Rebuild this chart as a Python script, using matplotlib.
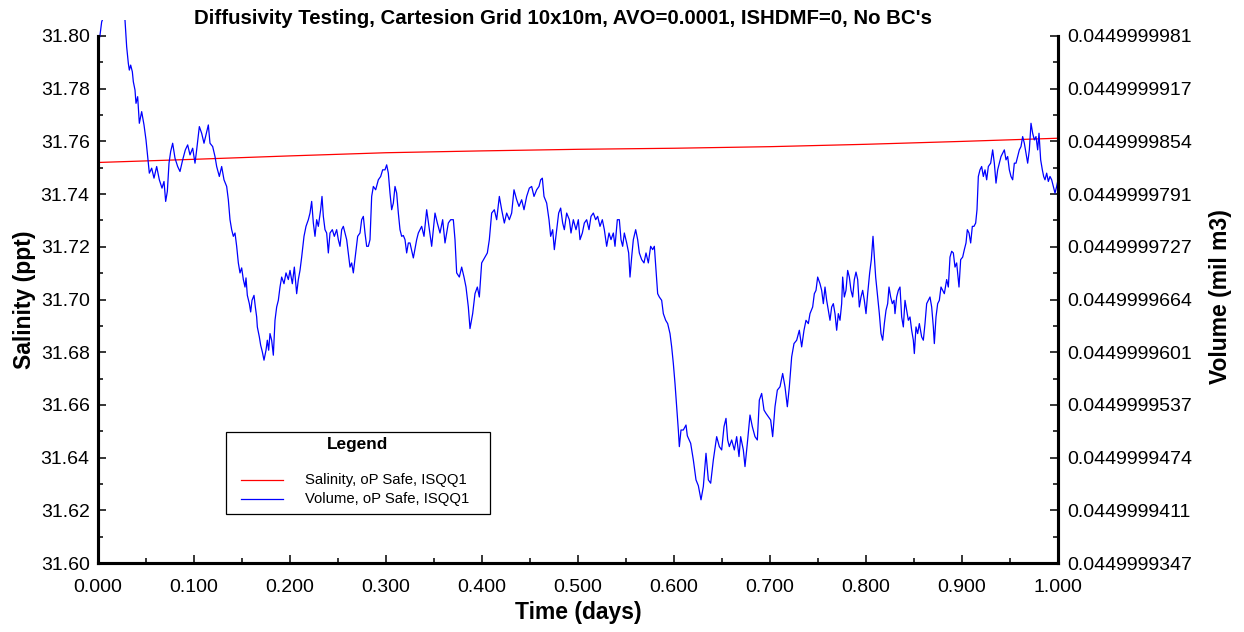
import numpy as np
import matplotlib
matplotlib.use("Agg")
import matplotlib.pyplot as plt
from matplotlib.patches import Rectangle
from matplotlib.ticker import FixedLocator, MultipleLocator, FormatStrFormatter

plt.rcParams["font.family"] = ["Liberation Sans", "DejaVu Sans"]

TITLE = "Diffusivity Testing, Cartesion Grid 10x10m, AVO=0.0001, ISHDMF=0, No BC's"

# salinity (red), time in minutes of the day
SAL_TIME_MIN = [0, 144, 288, 432, 576, 720, 864, 1008, 1152, 1296, 1440]
SAL_PPT = [31.7520, 31.7532, 31.7545, 31.7557, 31.7564, 31.7570,
           31.7574, 31.7580, 31.7589, 31.7600, 31.7612]

# volume (blue), time in minutes; volume given as tail in 1e-10 mil m3 above VOL_BASE
VOL_BASE = 0.0449999
VOL_TIME_MIN = [
    0.5, 3, 5.5, 12, 22.5, 33, 40.5, 43, 45.5, 47, 49, 51.5, 53, 55.5, 57, 59.5, 62, 65.5, 69, 72,
    74.5, 77, 80.5, 84, 88, 92, 96, 99, 101.5, 104, 106.5, 109, 112, 115.5, 119.5, 123, 127, 131, 134.5, 138,
    142, 145.5, 148, 152, 155.5, 159, 162, 165.5, 168, 172, 175.5, 178, 182, 185.5, 189, 193, 195.5, 198, 200.5, 203,
    205.5, 208, 210.5, 213, 215.5, 218, 220.5, 222, 224, 227, 229, 231, 234, 236, 238, 239, 242, 244, 246.5, 249,
    252, 254, 256, 258, 260.5, 263, 265.5, 268, 270.5, 273, 275.5, 279, 282, 285.5, 288, 291.5, 294.5, 298, 300.5, 303,
    305.5, 309, 312, 315.5, 318, 320.5, 323, 325.5, 328, 330.5, 334, 336, 338, 340.5, 343, 345.5, 348, 351.5, 354.5, 358,
    360.5, 363, 365.5, 368, 370.5, 373, 375.5, 378, 380.5, 383, 386.5, 389.5, 393, 395.5, 398, 400.5, 403, 405.5, 408, 410.5,
    413, 416.5, 420.5, 424, 427, 430.5, 433, 435.5, 438, 440.5, 443, 445.5, 448, 450.5, 453, 455.5, 458, 460.5, 463, 465.5,
    468, 473, 478, 480.5, 485.5, 489, 493, 497, 500.5, 505.5, 509, 513, 517, 520.5, 525.5, 529, 533, 535.5, 538, 542,
    545.5, 549, 552, 555.5, 558, 562, 565.5, 569, 572, 575.5, 580.5, 584, 587, 590.5, 594.5, 598, 602, 605.5, 609.5, 613,
    617, 620.5, 624, 628, 631.5, 635.5, 639, 643, 647, 650.5, 654, 658, 661.5, 664, 666.5, 669, 673, 676.5, 679, 682,
    684.5, 688, 691, 694, 697, 699.5, 703, 707, 709.5, 713, 717, 720.5, 723, 726.5, 729.5, 733, 736.5, 739.5, 743, 746.5,
    749.5, 753, 756.5, 759.5, 763, 766.5, 769.5, 773, 775.5, 779, 782, 784.5, 787, 789.5, 793, 796, 798, 800.5, 803, 806.5,
    809.5, 812, 815.5, 819, 822, 825.5, 829, 832, 834.5, 837, 839.5, 842, 845.5, 848, 851.5, 854.5, 858, 860.5, 863, 865.5,
    868, 870.5, 872, 874.5, 878, 882, 884, 889, 893, 897, 900.5, 904.5, 908, 912, 915.5, 919, 923, 928, 932, 935.5,
    939, 942, 944.5, 947, 950.5, 954.5, 958, 961.5, 964, 968, 970.5, 974, 978, 981.5, 985.5, 989, 992, 995.5, 999, 1002,
    1005.5, 1009, 1012, 1015.5, 1019, 1023, 1027, 1030.5, 1034, 1037, 1040.5, 1044, 1048, 1052, 1055.5, 1059, 1062, 1065.5, 1068, 1072,
    1074.5, 1077, 1079.5, 1083, 1085.5, 1088, 1090.5, 1093, 1095.5, 1098, 1100.5, 1103, 1105.5, 1108, 1110.5, 1113, 1115.5, 1117, 1119.5, 1122,
    1124.5, 1127, 1129.5, 1132, 1134.5, 1137, 1139.5, 1142, 1144.5, 1147, 1149.5, 1152, 1154.5, 1157.5, 1160, 1162.5, 1164.5, 1166.5, 1169.5, 1172,
    1174.5, 1177, 1179.5, 1182, 1184.5, 1186.5, 1189, 1191.5, 1194, 1195.5, 1198, 1200.5, 1203, 1205.5, 1208, 1210.5, 1213, 1215.5, 1218, 1220.5,
    1223, 1224.5, 1227, 1229.5, 1232, 1235.5, 1238, 1240.5, 1243, 1245.5, 1248, 1250.5, 1253, 1254.5, 1257, 1259.5, 1262, 1264.5, 1267, 1269.5,
    1273, 1275.5, 1278, 1280.5, 1283, 1285.5, 1288, 1291.5, 1294, 1297, 1299.5, 1302, 1304, 1306.5, 1309, 1311.5, 1314, 1316.5, 1318.5, 1320.5,
    1323, 1325.5, 1328, 1330.5, 1333, 1335.5, 1339, 1342, 1344.5, 1347, 1349.5, 1352, 1354.5, 1357, 1359.5, 1362, 1364.5, 1367, 1369.5, 1372,
    1374.5, 1377, 1379.5, 1382, 1384.5, 1387, 1389.5, 1392, 1394.5, 1397, 1399.5, 1402, 1404.5, 1407, 1409.5, 1411.5, 1414, 1416.5, 1418.5, 1420.5,
    1423, 1425.5, 1428, 1430.5, 1433, 1435.5, 1438, 1440,
]
VOL_TAIL = [
    972, 982, 998, 1012, 1018, 1015, 1000, 968, 948, 940, 946, 938, 926, 916, 900, 908, 876, 890, 874, 856,
    836, 816, 822, 810, 824, 808, 798, 806, 782, 794, 828, 842, 852, 834, 824, 818, 832, 844, 850, 838,
    846, 828, 844, 872, 864, 852, 862, 874, 852, 848, 836, 824, 812, 824, 808, 800, 784, 760, 748, 740,
    744, 728, 708, 696, 702, 688, 679, 690, 669, 659, 649, 663, 669, 655, 643, 631, 619, 609, 601, 591,
    603, 615, 603, 623, 615, 597, 639, 655, 663, 679, 691, 683, 696, 688, 699, 683, 703, 671, 688, 699,
    715, 740, 752, 760, 768, 782, 756, 740, 760, 752, 772, 788, 764, 748, 744, 720, 744, 748, 740, 748,
    736, 728, 748, 752, 744, 736, 720, 703, 708, 696, 720, 740, 744, 760, 764, 744, 728, 728, 736, 788,
    800, 796, 808, 812, 820, 820, 826, 816, 792, 772, 780, 800, 792, 768, 748, 740, 741, 736, 720, 732,
    732, 714, 736, 744, 752, 740, 772, 748, 728, 768, 756, 744, 760, 732, 756, 760, 760, 736, 696, 691,
    703, 691, 679, 655, 629, 647, 671, 679, 667, 708, 715, 720, 736, 768, 772, 760, 788, 772, 756, 768,
    760, 768, 796, 784, 776, 784, 772, 788, 798, 800, 788, 796, 800, 808, 810, 788, 780, 760, 740, 748,
    724, 748, 768, 774, 756, 748, 768, 760, 744, 760, 748, 760, 736, 744, 756, 760, 748, 764, 768, 760,
    764, 752, 760, 748, 728, 744, 736, 744, 728, 760, 760, 736, 728, 744, 732, 720, 691, 715, 736, 748,
    736, 720, 712, 708, 720, 708, 728, 724, 728, 699, 671, 667, 663, 647, 639, 635, 623, 607, 587, 563,
    535, 507, 487, 507, 507, 513, 500, 491, 471, 447, 440, 423, 439, 479, 447, 443, 471, 499, 487, 483,
    511, 521, 495, 487, 495, 483, 499, 475, 499, 483, 463, 491, 525, 511, 499, 495, 543, 551, 531, 527,
    523, 519, 499, 535, 555, 559, 575, 559, 535, 559, 595, 611, 615, 627, 607, 627, 639, 635, 647, 655,
    671, 675, 691, 683, 675, 659, 679, 663, 651, 639, 655, 659, 647, 627, 647, 639, 659, 691, 667, 675,
    699, 691, 675, 667, 688, 697, 688, 655, 667, 675, 663, 647, 671, 696, 712, 740, 715, 691, 667, 647,
    623, 615, 635, 651, 659, 679, 667, 659, 663, 647, 667, 675, 679, 643, 631, 663, 651, 639, 643, 627,
    615, 599, 631, 623, 635, 619, 615, 635, 659, 663, 667, 655, 631, 611, 643, 659, 663, 679, 675, 671,
    688, 679, 715, 722, 720, 703, 708, 679, 712, 715, 724, 732, 748, 744, 732, 752, 752, 756, 772, 812,
    820, 824, 812, 820, 808, 824, 828, 844, 828, 804, 820, 828, 836, 840, 844, 832, 836, 820, 812, 808,
    828, 828, 836, 844, 848, 860, 852, 840, 828, 844, 876, 864, 856, 860, 844, 864, 832, 820, 812, 808,
    816, 806, 812, 808, 800, 792, 800, 808,
]

SAL_TICKS = [31.60, 31.62, 31.64, 31.66, 31.68, 31.70, 31.72, 31.74, 31.76, 31.78, 31.80]
VOL_TICK_LABELS = ["0.0449999347", "0.0449999411", "0.0449999474", "0.0449999537",
                   "0.0449999601", "0.0449999664", "0.0449999727", "0.0449999791",
                   "0.0449999854", "0.0449999917", "0.0449999981"]
VOL_MIN = 0.0449999347
VOL_MAX = 0.0449999981

sal_days = np.array(SAL_TIME_MIN) / 1440.0
vol_days = np.array(VOL_TIME_MIN) / 1440.0
volume = VOL_BASE + np.array(VOL_TAIL) * 1e-10

fig = plt.figure(figsize=(12.44, 6.32), dpi=100)
ax = fig.add_axes([98 / 1244, 1 - 563 / 632, 960 / 1244, 527 / 632])
ax2 = ax.twinx()

ax.plot(sal_days, SAL_PPT, color="#ff0000", lw=0.9)
blue, = ax2.plot(vol_days, volume, color="#0000ff", lw=0.9)
blue.set_clip_path(Rectangle((0, 0), 1, 1.031, transform=ax2.transAxes))

ax.set_xlim(0, 1)
ax.set_ylim(SAL_TICKS[0], SAL_TICKS[-1])
ax2.set_ylim(VOL_MIN, VOL_MAX)

ax.xaxis.set_major_locator(MultipleLocator(0.1))
ax.xaxis.set_minor_locator(MultipleLocator(0.05))
ax.xaxis.set_major_formatter(FormatStrFormatter("%.3f"))
ax.yaxis.set_major_locator(FixedLocator(SAL_TICKS))
ax.yaxis.set_minor_locator(MultipleLocator(0.01))
ax.yaxis.set_major_formatter(FormatStrFormatter("%.2f"))

vt = np.linspace(VOL_MIN, VOL_MAX, len(VOL_TICK_LABELS))
ax2.set_yticks(vt)
ax2.set_yticklabels(VOL_TICK_LABELS)
ax2.yaxis.set_minor_locator(FixedLocator((vt[:-1] + vt[1:]) / 2))

for a in (ax, ax2):
    a.tick_params(which="major", direction="in", length=6, width=1.1, labelsize=14, pad=6)
    a.tick_params(which="minor", direction="in", length=3.5, width=1.1)
    a.spines["top"].set_visible(False)
    for s in ("left", "right", "bottom"):
        a.spines[s].set_linewidth(2.2)
ax.tick_params(axis="x", which="major", pad=11.5)
ax2.tick_params(axis="y", which="major", pad=7)

ax.set_xlabel("Time (days)", fontsize=16.5, fontweight="bold", va="center")
ax.xaxis.set_label_coords(0.5, (563 - 612) / 527)
ax.set_ylabel("Salinity (ppt)", fontsize=16.5, fontweight="bold", va="center")
ax.yaxis.set_label_coords((24 - 98) / 960, 0.5)
ax2.set_ylabel("Volume (mil m3)", fontsize=16.5, fontweight="bold", va="center")
ax2.yaxis.set_label_coords((1220 - 98) / 960, 0.505)

fig.text(563 / 1244, 1 - 18 / 632, TITLE, ha="center", va="center",
         fontsize=14.7, fontweight="bold")

# legend box drawn by hand
tr = ax2.transAxes
ax2.add_patch(Rectangle((0.1333, 0.0930), 0.2750, 0.1556, transform=tr,
                        facecolor="white", edgecolor="black", lw=0.9, zorder=5))
ax2.text(0.2708, 0.2258, "Legend", transform=tr, ha="center", va="center",
         fontsize=12.4, fontweight="bold", zorder=6)
for ypos, col, lab in [(0.1575, "#ff0000", "Salinity, oP Safe, ISQQ1"),
                       (0.1214, "#0000ff", "Volume, oP Safe, ISQQ1")]:
    ax2.plot([0.1490, 0.1927], [ypos, ypos], color=col, lw=0.9, transform=tr, zorder=6)
    ax2.text(0.2156, ypos, lab, transform=tr, ha="left", va="center",
             fontsize=10.7, zorder=6)

fig.savefig("out.png", dpi=100)
